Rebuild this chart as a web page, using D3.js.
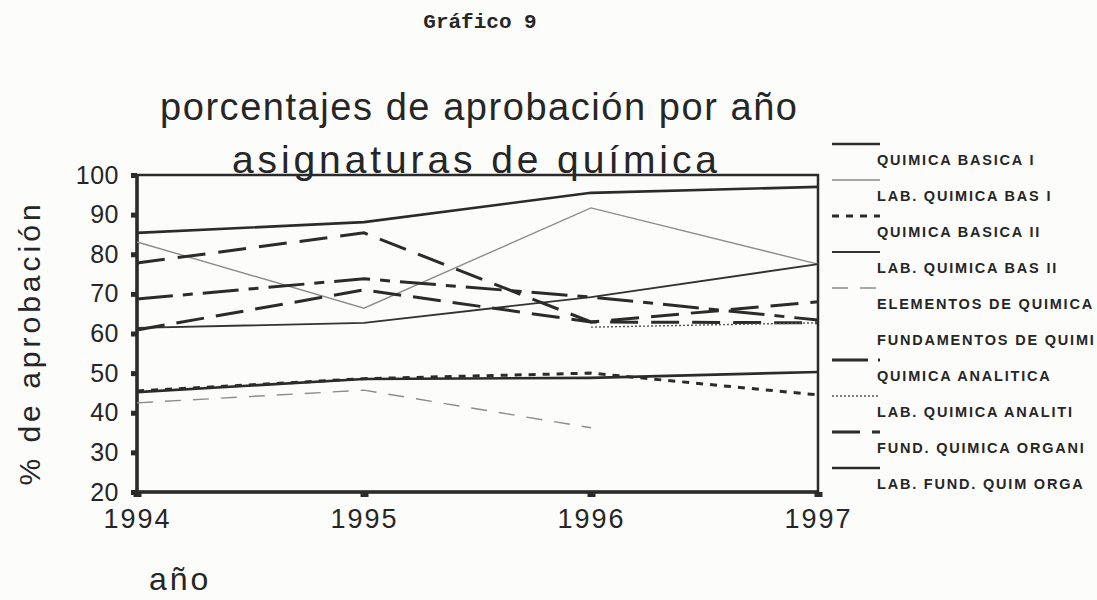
<!DOCTYPE html>
<html>
<head>
<meta charset="utf-8">
<script src="https://cdn.jsdelivr.net/npm/d3@7"></script>
<style>
  body { margin: 0; background: #fcfcfb; }
  svg { display: block; }
  text { font-family: "Liberation Sans", Arial, sans-serif; fill: #262626; }
</style>
</head>
<body>
<svg id="chart"></svg>
<script>
// values (% approved per year)
const years = [1994, 1995, 1996, 1997];
const yTicks = [100, 90, 80, 70, 60, 50, 40, 30, 20];

const subjects = [
  "QUIMICA BASICA I", "LAB. QUIMICA BAS  I", "QUIMICA BASICA II", "LAB. QUIMICA BAS II",
  "ELEMENTOS DE QUIMICA", "FUNDAMENTOS DE QUIMI", "QUIMICA ANALITICA",
  "LAB. QUIMICA ANALITI", "FUND. QUIMICA ORGANI", "LAB. FUND. QUIM ORGA"
];

const quimBasicaI     = [85.4, 88.1, 95.5, 97.0];
const labQuimBasI     = [83.1, 66.4, 91.7, 77.5];
const quimBasicaII    = [45.5, 48.6, 50.0, 44.5];
const labQuimBasII    = [61.4, 62.7, 69.2, 77.5];
const elementosQuim   = [42.5, 45.7, 36.2, null];
const fundamentosQuim = [77.8, 85.4, 62.9, 62.7];
const quimAnalitica   = [68.7, 73.8, 69.2, 63.4];
const labQuimAnaliti  = [null, null, 61.6, 62.7];
const fundQuimOrgani  = [60.9, 71.0, 62.9, 68.0];
const labFundQuimOrga = [45.2, 48.5, 48.8, 50.3];

const series = [quimBasicaI, labQuimBasI, quimBasicaII, labQuimBasII, elementosQuim,
  fundamentosQuim, quimAnalitica, labQuimAnaliti, fundQuimOrgani, labFundQuimOrga];

// line look for each subject, same order as subjects
const styles = [
  {stroke: "#2b2b2b", width: 2.6, dash: null},
  {stroke: "#8c8c8c", width: 1.4, dash: null},
  {stroke: "#2b2b2b", width: 3, dash: "7,7"},
  {stroke: "#333", width: 1.8, dash: null},
  {stroke: "#8c8c8c", width: 1.4, dash: "16,12"},
  {stroke: "#2b2b2b", width: 3, dash: "28,13"},
  {stroke: "#2b2b2b", width: 3, dash: "36,10,10,10"},
  {stroke: "#555", width: 1.4, dash: "2,2"},
  {stroke: "#2b2b2b", width: 3, dash: "28,12"},
  {stroke: "#2b2b2b", width: 2.6, dash: null}
];
// the scan shows no legend sample for FUNDAMENTOS DE QUIMI
const hideSwatch = [false, false, false, false, false, true, false, false, false, false];

const width = 1097, height = 600;
const svg = d3.select("#chart").attr("width", width).attr("height", height);

const x = d3.scaleLinear().domain([1994, 1997]).range([137, 818]);
const y = d3.scaleLinear().domain([20, 100]).range([492, 175]);

// titles
svg.append("text")
  .attr("x", 480).attr("y", 28)
  .attr("text-anchor", "middle")
  .style("font-family", "'Liberation Mono', 'Courier New', monospace")
  .style("font-weight", "bold")
  .style("font-size", "21px")
  .text("Gráfico 9");

svg.append("text")
  .attr("x", 160).attr("y", 120)
  .attr("textLength", 637).attr("lengthAdjust", "spacing")
  .style("font-size", "38px")
  .text("porcentajes de aprobación por año");

svg.append("text")
  .attr("x", 232).attr("y", 173)
  .attr("textLength", 485).attr("lengthAdjust", "spacing")
  .style("font-size", "39px")
  .text("asignaturas de química");

// frame
svg.append("rect")
  .attr("x", x(1994)).attr("y", y(100))
  .attr("width", x(1997) - x(1994)).attr("height", y(20) - y(100))
  .attr("fill", "none").attr("stroke", "#2b2b2b").attr("stroke-width", 2.5);
svg.append("line")
  .attr("x1", x(1994)).attr("x2", x(1994)).attr("y1", y(100)).attr("y2", y(20))
  .attr("stroke", "#2b2b2b").attr("stroke-width", 3.5);
svg.append("line")
  .attr("x1", x(1994)).attr("x2", x(1997)).attr("y1", y(20)).attr("y2", y(20))
  .attr("stroke", "#2b2b2b").attr("stroke-width", 3.5);

// axes
const yAxis = svg.append("g")
  .attr("transform", `translate(${x(1994)},0)`)
  .call(d3.axisLeft(y).tickValues(yTicks).tickSize(6).tickPadding(12));
yAxis.select(".domain").remove();
yAxis.selectAll(".tick line").attr("stroke", "#2b2b2b").attr("stroke-width", 5);
yAxis.selectAll(".tick text")
  .style("font-size", "25px").style("letter-spacing", "0.5px")
  .attr("fill", "#262626");

const xAxis = svg.append("g")
  .attr("transform", `translate(0,${y(20)})`)
  .call(d3.axisBottom(x).tickValues(years).tickFormat(d3.format("d")).tickSize(5).tickPadding(12));
xAxis.select(".domain").remove();
xAxis.selectAll(".tick line").attr("stroke", "#2b2b2b").attr("stroke-width", 8);
xAxis.selectAll(".tick text")
  .style("font-size", "27px").style("letter-spacing", "2px")
  .attr("fill", "#262626");

// axis titles
svg.append("text")
  .attr("transform", "translate(40,343) rotate(-90)")
  .attr("text-anchor", "middle")
  .style("font-size", "30px").style("letter-spacing", "4px")
  .text("% de aprobación");

svg.append("text")
  .attr("x", 149).attr("y", 590)
  .style("font-size", "32px").style("letter-spacing", "3px")
  .text("año");

// lines
const line = d3.line()
  .defined(d => d.v != null)
  .x(d => x(d.year))
  .y(d => y(d.v));

svg.append("g").selectAll("path")
  .data(series.map((vals, i) => ({i, pts: years.map((yr, j) => ({year: yr, v: vals[j]}))})))
  .enter().append("path")
  .attr("d", d => line(d.pts))
  .attr("fill", "none")
  .attr("stroke", d => styles[d.i].stroke)
  .attr("stroke-width", d => styles[d.i].width)
  .attr("stroke-dasharray", d => styles[d.i].dash);

// legend
const legend = svg.append("g").attr("transform", "translate(832,0)");
const item = legend.selectAll("g")
  .data(subjects)
  .enter().append("g")
  .attr("transform", (d, i) => `translate(0,${160 + i * 36})`);

item.filter((d, i) => !hideSwatch[i]).append("line")
  .attr("x1", 0).attr("x2", 48).attr("y1", -16).attr("y2", -16)
  .attr("stroke", d => styles[subjects.indexOf(d)].stroke)
  .attr("stroke-width", d => styles[subjects.indexOf(d)].width)
  .attr("stroke-dasharray", d => styles[subjects.indexOf(d)].dash);

item.append("text")
  .attr("x", 45).attr("y", 5)
  .style("font-size", "14.5px").style("font-weight", "bold").style("letter-spacing", "1.8px")
  .text(d => d);
</script>
</body>
</html>
